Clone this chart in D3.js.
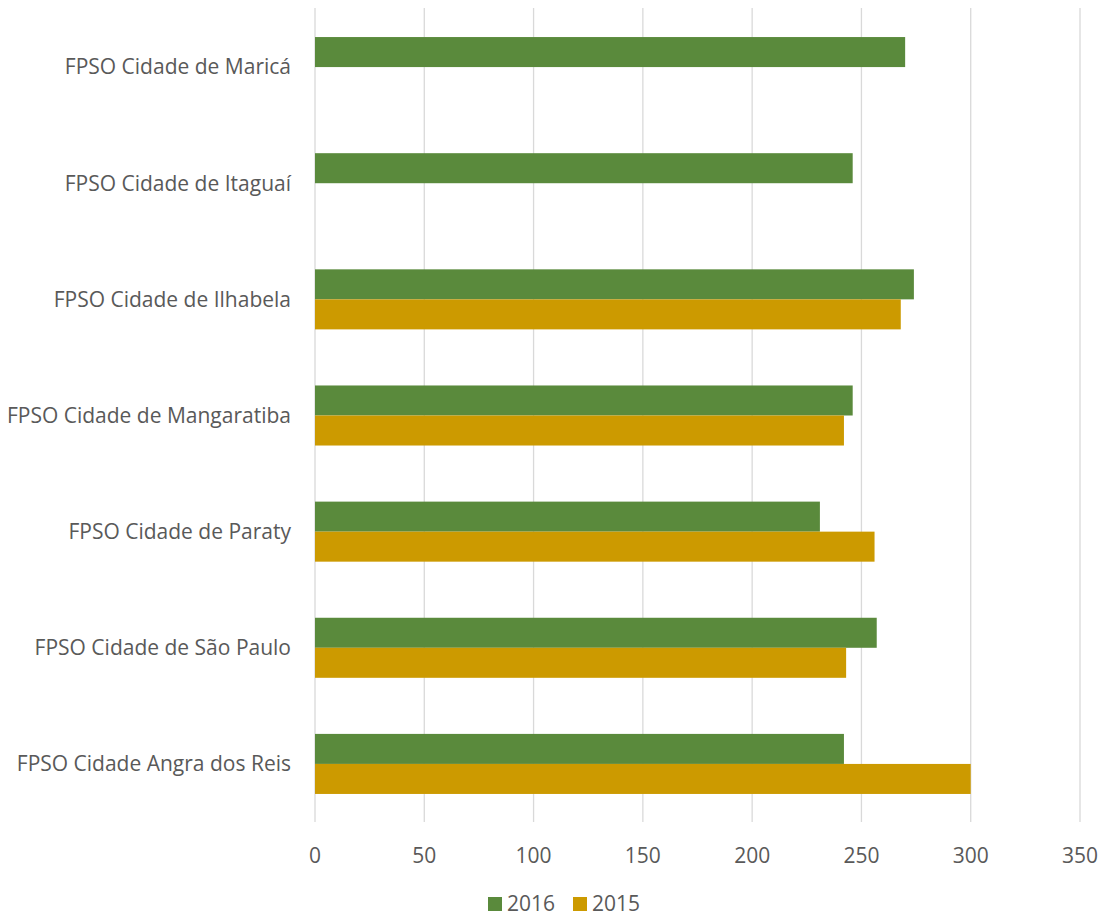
<!DOCTYPE html>
<html>
<head>
<meta charset="utf-8">
<script src="https://cdn.jsdelivr.net/npm/d3@7"></script>
<style>
  body { margin: 0; background: #fff; }
  text { font-family: "Open Sans", sans-serif; fill: #595959; }
</style>
</head>
<body>
<div id="chart"></div>
<script>
// categories, top to bottom
const categories = [
  "FPSO Cidade de Maricá",
  "FPSO Cidade de Itaguaí",
  "FPSO Cidade de Ilhabela",
  "FPSO Cidade de Mangaratiba",
  "FPSO Cidade de Paraty",
  "FPSO Cidade de São Paulo",
  "FPSO Cidade Angra dos Reis"
];
const seriesNames = ["2016", "2015"];
const values2016 = [270, 246, 274, 246, 231, 257, 242];
const values2015 = [null, null, 268, 242, 256, 243, 300];
const xTicks = [0, 50, 100, 150, 200, 250, 300, 350];
const colors = ["#5a8a3c", "#cc9a00"];

const width = 1106, height = 918;
const margin = {top: 9, right: 26, bottom: 96, left: 315};
const fontSize = 21;

const svg = d3.select("#chart").append("svg")
  .attr("width", width)
  .attr("height", height);

const x = d3.scaleLinear()
  .domain([0, 350])
  .range([margin.left, width - margin.right]);

const y = d3.scaleBand()
  .domain(categories)
  .range([margin.top, height - margin.bottom])
  .paddingInner(0.483)
  .paddingOuter(0.2415);

const ySub = d3.scaleBand()
  .domain(seriesNames)
  .range([0, y.bandwidth()]);

// gridlines
svg.append("g")
  .selectAll("line")
  .data(xTicks)
  .join("line")
  .attr("x1", d => x(d)).attr("x2", d => x(d))
  .attr("y1", margin.top - 1).attr("y2", height - margin.bottom)
  .attr("stroke", "#d9d9d9")
  .attr("stroke-width", 1.3);

// tick labels
svg.append("g")
  .selectAll("text")
  .data(xTicks)
  .join("text")
  .attr("x", d => x(d))
  .attr("y", 856)
  .attr("dy", "0.35em")
  .attr("text-anchor", "middle")
  .attr("font-size", fontSize)
  .text(d => d);

// category labels
svg.append("g")
  .selectAll("text")
  .data(categories)
  .join("text")
  .attr("x", margin.left - 24)
  .attr("y", d => y(d) + y.bandwidth() / 2)
  .attr("dy", "0.35em")
  .attr("text-anchor", "end")
  .attr("font-size", fontSize)
  .text(d => d);

// bars
const rows = categories.map((c, i) => ({c, vals: [values2016[i], values2015[i]]}));
const group = svg.append("g")
  .selectAll("g")
  .data(rows)
  .join("g")
  .attr("transform", d => `translate(0,${y(d.c)})`);

group.selectAll("rect")
  .data(d => d.vals.map((v, j) => ({s: seriesNames[j], v, j})).filter(e => e.v != null))
  .join("rect")
  .attr("x", x(0))
  .attr("y", e => ySub(e.s))
  .attr("width", e => x(e.v) - x(0))
  .attr("height", ySub.bandwidth())
  .attr("fill", e => colors[e.j]);

// legend
const legendX = [488, 573];
const legend = svg.append("g")
  .selectAll("g")
  .data(seriesNames)
  .join("g")
  .attr("transform", (d, i) => `translate(${legendX[i]},897)`);
legend.append("rect")
  .attr("width", 14).attr("height", 14)
  .attr("fill", (d, i) => colors[i]);
legend.append("text")
  .attr("x", 19)
  .attr("y", 7)
  .attr("dy", "0.35em")
  .attr("font-size", fontSize)
  .text(d => d);
</script>
</body>
</html>
